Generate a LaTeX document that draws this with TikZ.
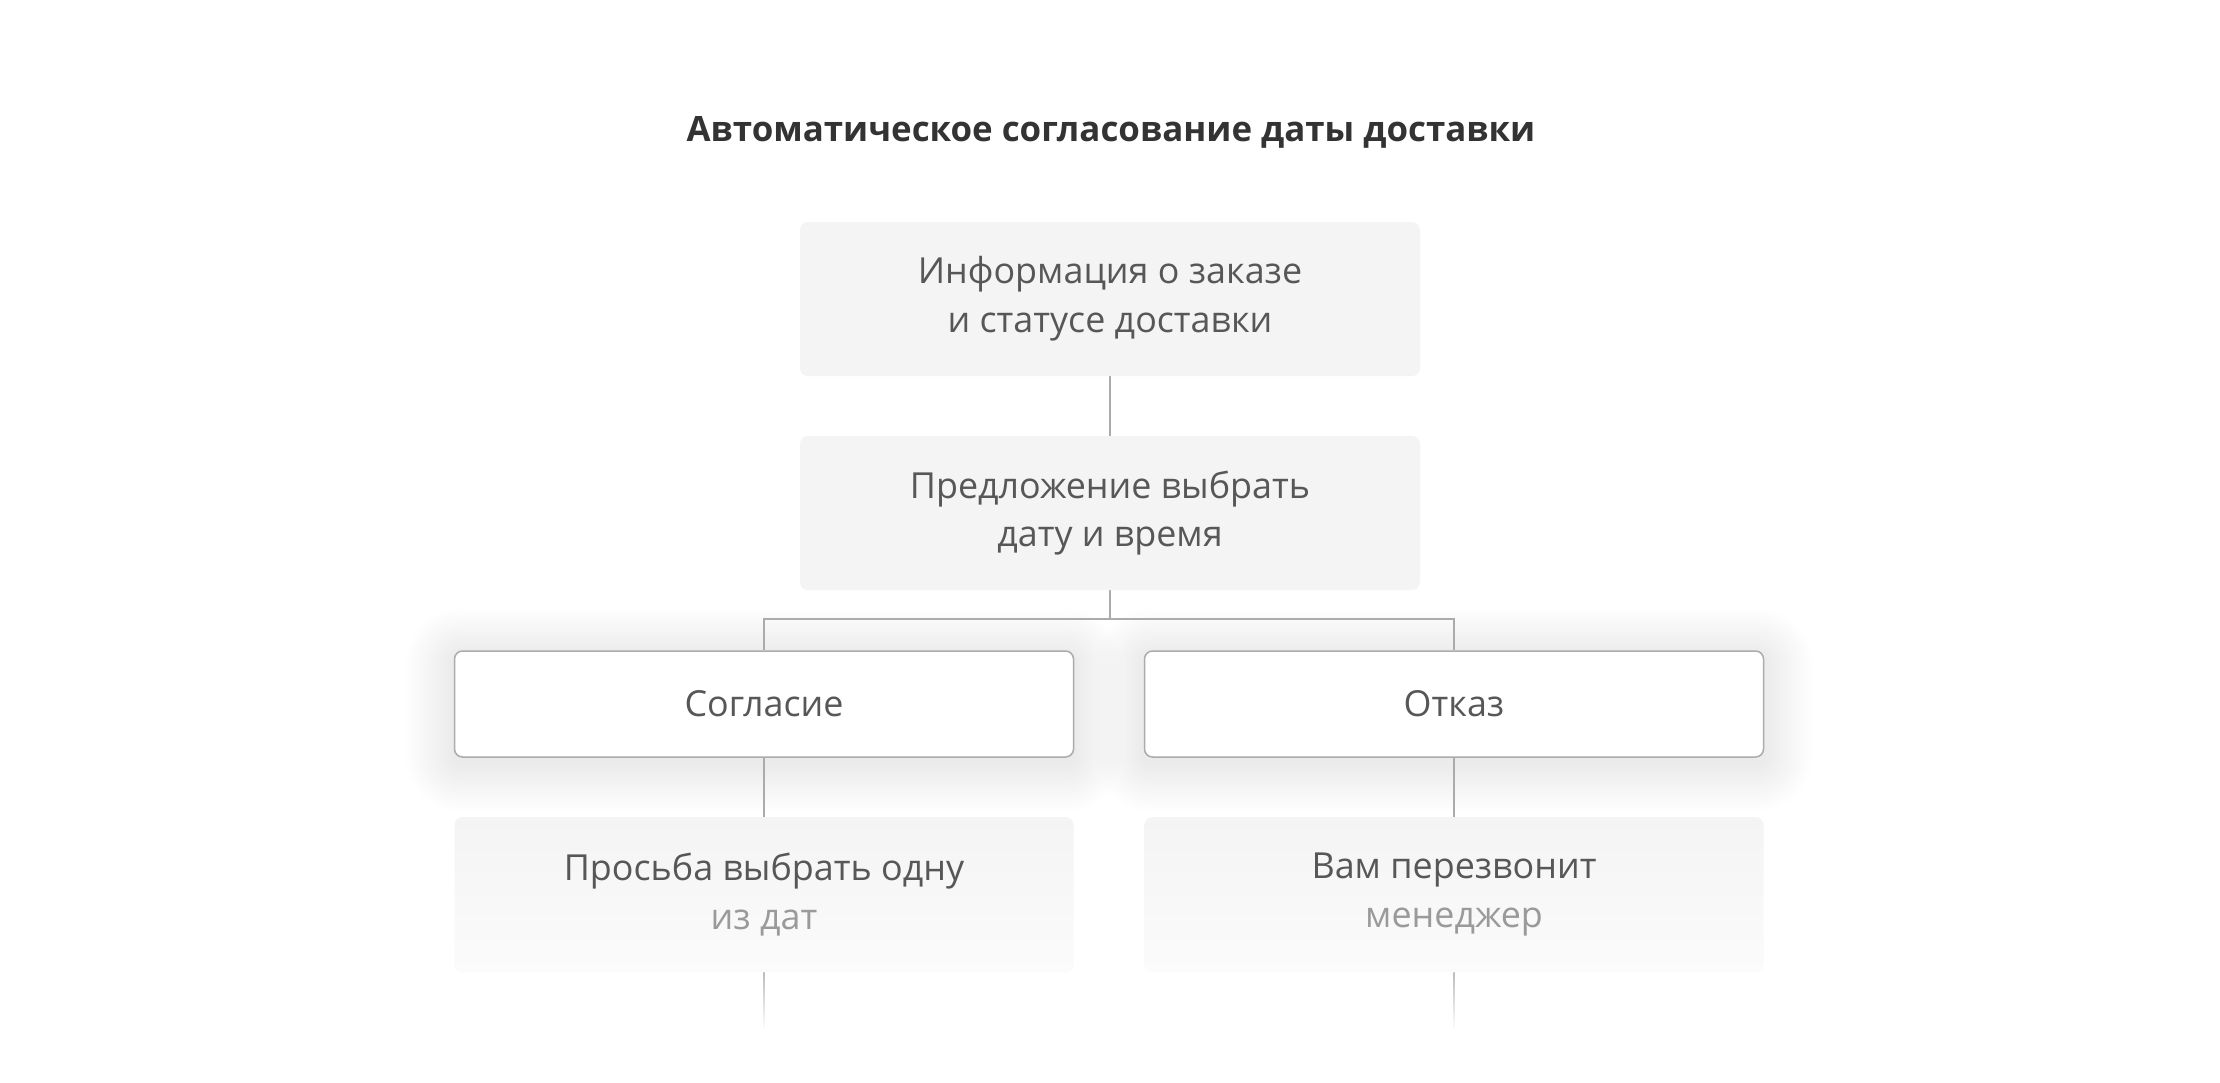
\documentclass[tikz,border=0pt]{standalone}
\usepackage{fontspec}
\setmainfont{Open Sans}
\usetikzlibrary{backgrounds,calc}
\definecolor{boxfill}{HTML}{F4F4F4}
\definecolor{boxfade}{HTML}{FBFBFB}
\definecolor{linec}{HTML}{ABABAB}
\definecolor{txt}{HTML}{575757}
\definecolor{txtlight}{HTML}{9A9A9A}
\definecolor{titlec}{HTML}{333333}
\tikzset{
  bodyfont/.style={font=\fontsize{36}{49}\selectfont},
  solidbox/.style={fill=boxfill, draw=none, rounded corners=8bp, minimum width=620bp, minimum height=154bp, text=txt, align=center, bodyfont, inner sep=0pt},
  choicebox/.style={fill=white, draw=linec, line width=1.5bp, rounded corners=8bp, minimum width=619bp, minimum height=106bp, text=txt, align=center, bodyfont, inner sep=0pt},
  fadebox/.style={top color=boxfill, bottom color=boxfade, draw=none, rounded corners=8bp, minimum width=619bp, minimum height=155bp, text=txt, align=center, bodyfont, inner sep=0pt},
  conn/.style={draw=linec, line width=1.5bp},
}
\begin{document}
\begin{tikzpicture}[x=1bp,y=-1bp]
\begin{scope}[on background layer]
\fill[white] (0,0) rectangle (2220,1082);
\end{scope}
\useasboundingbox (0,0) rectangle (2220,1082);

\node[text=titlec, font=\fontsize{35}{40}\selectfont\bfseries] (title) at (1111,132) {Автоматическое согласование даты доставки};

\node[solidbox] (info) at (1110,299) {Информация о заказе\\и статусе доставки};
\node[solidbox] (offer) at (1110,513) {Предложение выбрать\\дату и время};
\node[choicebox] (yes) at (764,704) {Согласие};
\node[choicebox] (no) at (1454,704) {Отказ};
\node[fadebox] (ask) at (764,894.5) {Просьба выбрать одну\\{\color{txtlight}из дат}};
\node[fadebox] (call) at (1454,894.5) {Вам перезвонит\\{\color{txtlight}менеджер}};

\coordinate (branch) at ($(offer.south)+(0,29)$);
\coordinate (askend) at ($(ask.south)+(0,58)$);
\coordinate (callend) at ($(call.south)+(0,58)$);

\begin{scope}[on background layer]
\foreach \n in {yes,no}{
  \foreach \i [evaluate=\i as \d using \i*2.4, evaluate=\i as \r using 8+\i*2.4] in {1,...,20}{
    \fill[black, opacity=0.002, rounded corners=\r bp]
      ($(\n.south west)+(-\d,\d+6)$) rectangle ($(\n.north east)+(\d,-\d+6)$);
  }
}
\draw[conn] (info.south) -- (offer.north);
\draw[conn] (offer.south) -- (branch) -| (yes.north);
\draw[conn] (branch) -| (no.north);
\draw[conn] (yes.south) -- (ask.north);
\draw[conn] (no.south) -- (call.north);
\shade[top color=linec!80, bottom color=white] ($(ask.south)+(-0.75,0)$) rectangle ($(askend)+(0.75,0)$);
\shade[top color=linec!80, bottom color=white] ($(call.south)+(-0.75,0)$) rectangle ($(callend)+(0.75,0)$);
\end{scope}
\end{tikzpicture}
\end{document}
